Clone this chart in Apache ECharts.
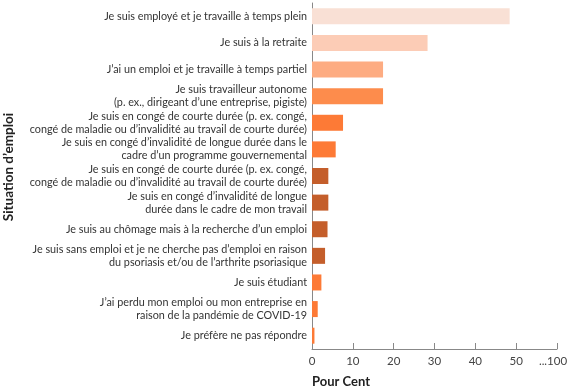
<!DOCTYPE html>
<html><head><meta charset="utf-8">
<script src="https://cdn.jsdelivr.net/npm/echarts@6/dist/echarts.min.js"></script>
<style>html,body{margin:0;padding:0;background:#fff}#c{width:568px;height:391px}</style>
</head><body><div id="c"></div>
<script>
var categories = [
  "Je suis employé et je travaille à temps plein",
  "Je suis à la retraite",
  "J’ai un emploi et je travaille à temps partiel",
  "Je suis travailleur autonome\n(p. ex., dirigeant d’une entreprise, pigiste)",
  "Je suis en congé de courte durée (p. ex. congé,\ncongé de maladie ou d’invalidité au travail de courte durée)",
  "Je suis en congé d’invalidité de longue durée dans le\ncadre d’un programme gouvernemental",
  "Je suis en congé de courte durée (p. ex. congé,\ncongé de maladie ou d’invalidité au travail de courte durée)",
  "Je suis en congé d’invalidité de longue\ndurée dans le cadre de mon travail",
  "Je suis au chômage mais à la recherche d’un emploi",
  "Je suis sans emploi et je ne cherche pas d’emploi en raison\ndu psoriasis et/ou de l’arthrite psoriasique",
  "Je suis étudiant",
  "J’ai perdu mon emploi ou mon entreprise en\nraison de la pandémie de COVID-19",
  "Je préfère ne pas répondre"
];
var values = [48.4, 28.3, 17.4, 17.4, 7.6, 5.8, 4.0, 4.0, 3.8, 3.2, 2.3, 1.4, 0.6];
var barColors = ["#f9e0d5","#fcccb6","#fdac82","#fd8c4c","#fd7a36","#fd7a36","#c45e2b","#c45e2b","#c45e2b","#c45e2b","#fd7a36","#fd7a36","#fd7a36"];
var tickValues = [0, 10, 20, 30, 40, 50, 60];
var tickLabels = ["0", "10", "20", "30", "40", "50", "...100"];

var FONT = "Lato";
var chart = echarts.init(document.getElementById('c'), null, {renderer: 'canvas'});
chart.setOption({
  animation: false,
  grid: {left: 312, right: 11, top: 3, bottom: 42, containLabel: false, outerBoundsMode: 'none'},
  xAxis: {
    type: 'value', min: 0, max: 60, interval: 10,
    name: 'Pour Cent', nameLocation: 'start', nameGap: 0,
    nameTextStyle: {fontFamily: FONT, fontWeight: 'bold', fontSize: 13, color: '#222', align: 'left', verticalAlign: 'top', padding: [26, 0, 0, 0]},
    axisLine: {show: true, lineStyle: {color: '#888', width: 1}},
    axisTick: {show: true, inside: true, length: 6, lineStyle: {color: '#888'}},
    splitLine: {show: false},
    axisLabel: {fontFamily: FONT, fontSize: 11.5, color: '#444', margin: 6,
      rich: {last: {fontFamily: FONT, fontSize: 11.5, color: '#444', padding: [0, 8, 0, 0]}},
      formatter: function (v) {
        var i = tickValues.indexOf(v);
        if (i < 0) return '';
        return i === tickValues.length - 1 ? '{last|' + tickLabels[i] + '}' : tickLabels[i];
      }}
  },
  yAxis: {
    type: 'category', data: categories, inverse: true,
    name: 'Situation d’emploi', nameLocation: 'middle', nameGap: 296,
    nameTextStyle: {fontFamily: FONT, fontWeight: 'bold', fontSize: 13.5, color: '#222', padding: [0, 0, 0, 18]},
    axisLine: {show: true, lineStyle: {color: '#888', width: 1}},
    axisTick: {show: false},
    axisLabel: {fontFamily: FONT, fontSize: 10.8, color: '#333', margin: 5, lineHeight: 13, align: 'right'}
  },
  series: [{
    type: 'bar', barWidth: 16,
    data: values.map(function (v, i) { return {value: v, itemStyle: {color: barColors[i]}}; })
  }]
});
</script></body></html>
